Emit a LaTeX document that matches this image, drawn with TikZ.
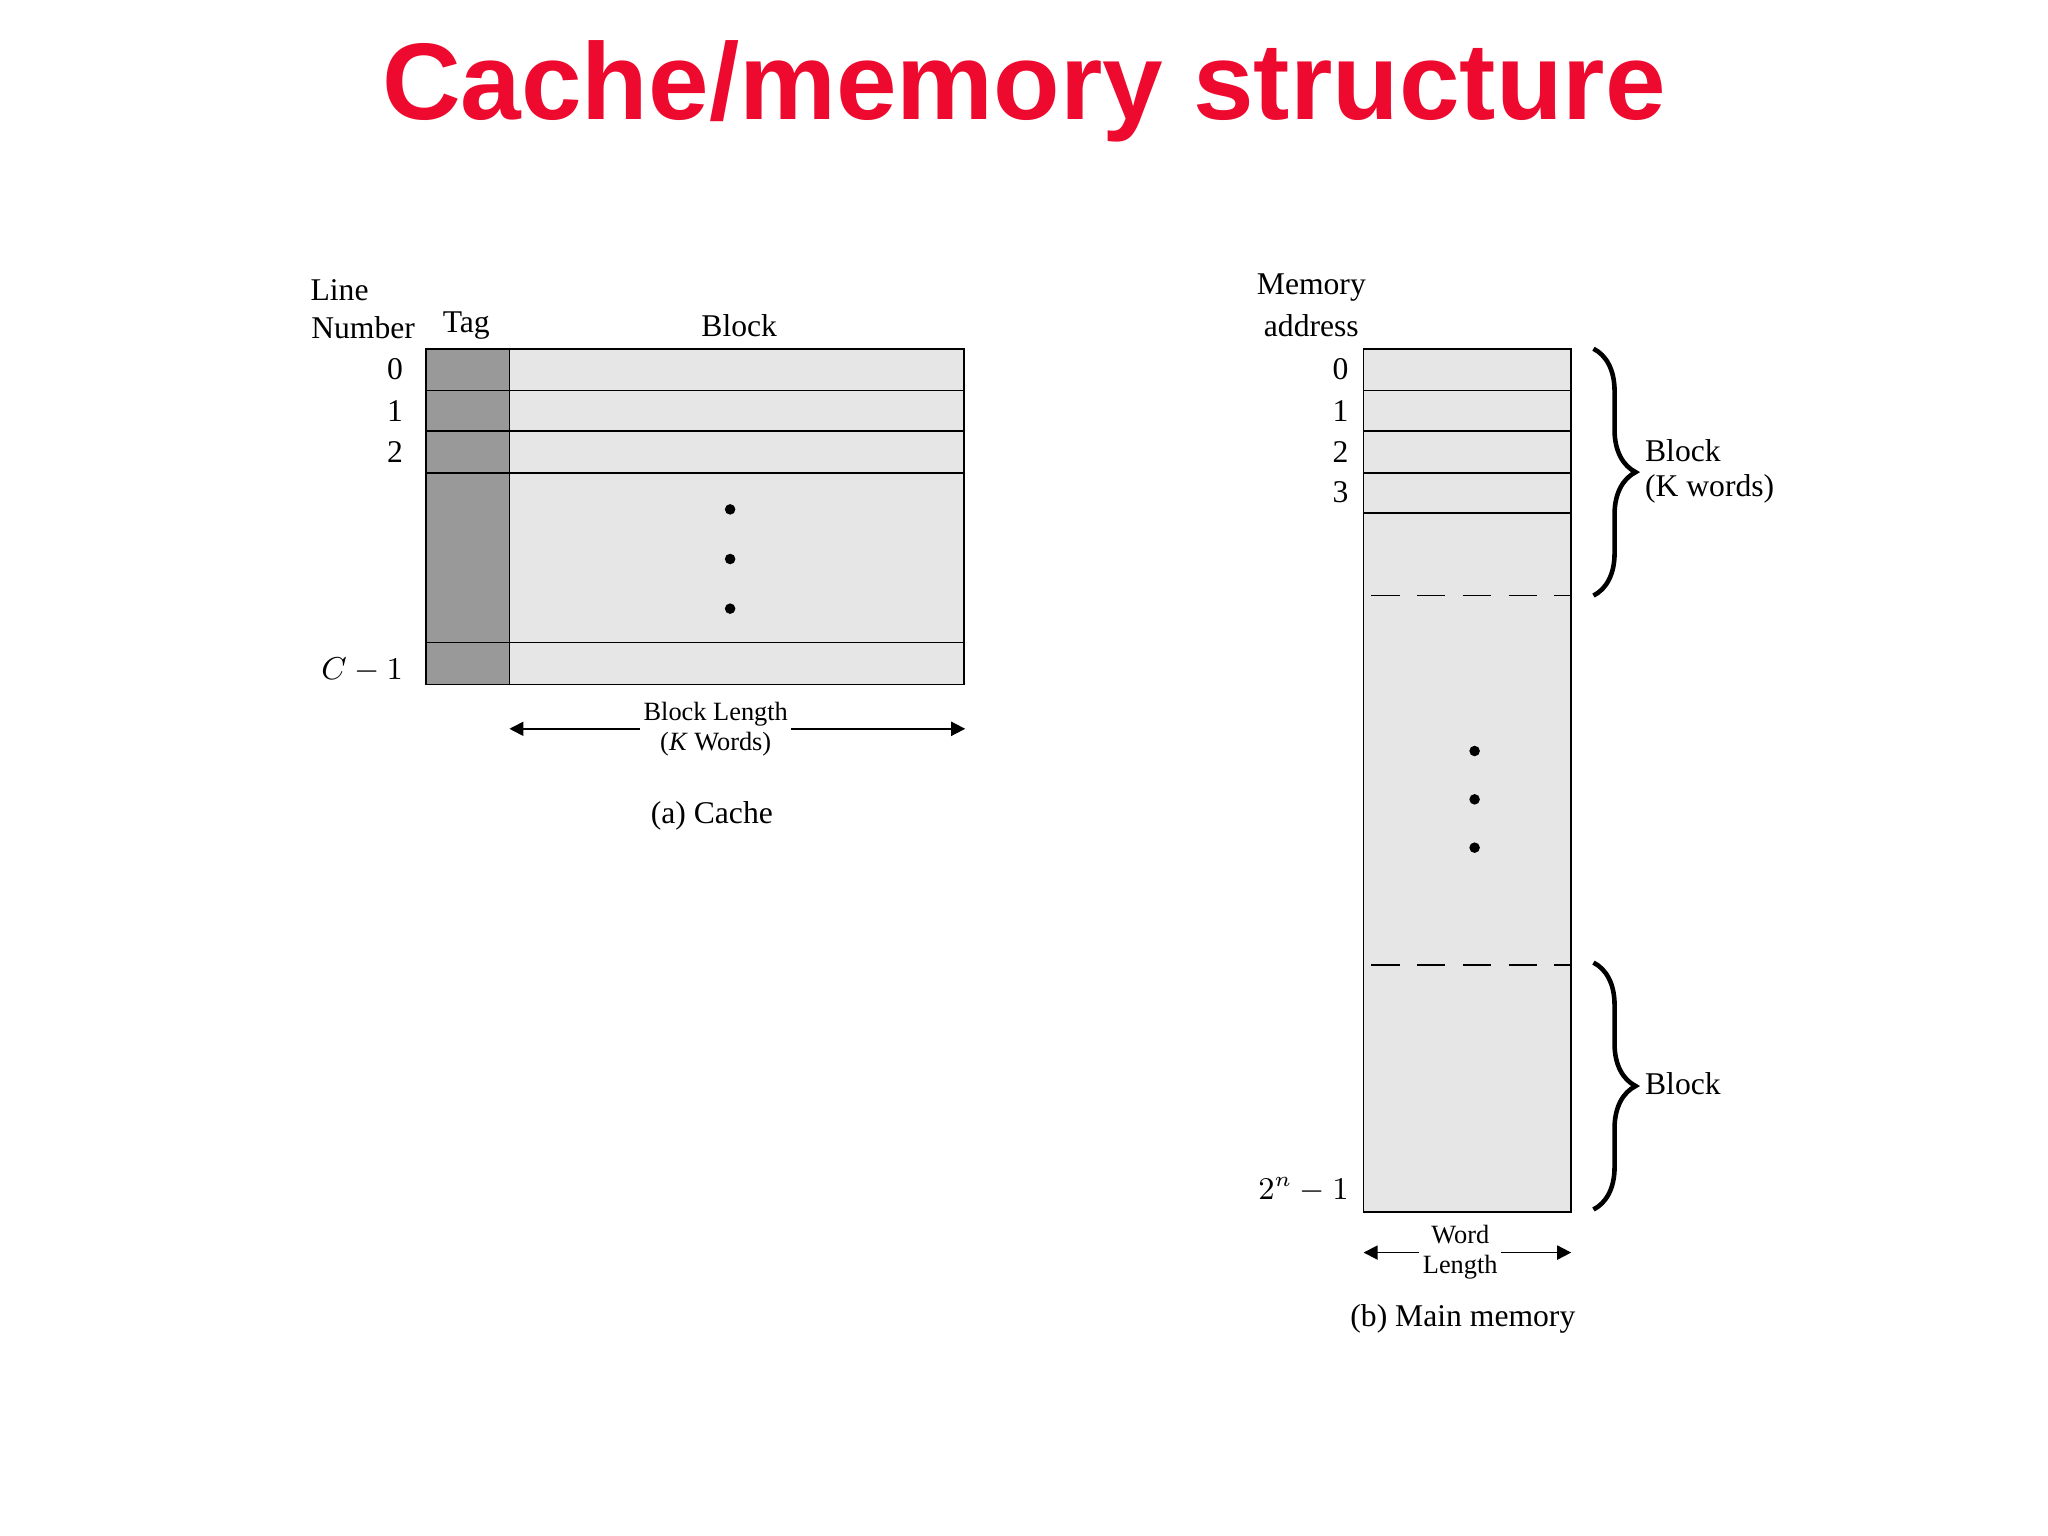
\documentclass[tikz,border=0pt]{standalone}
\usepackage{fontspec}
\setmainfont{Liberation Serif}
\newfontfamily\titlefont{Liberation Sans}
\usetikzlibrary{decorations.pathreplacing,arrows.meta}
\definecolor{titlered}{HTML}{EE0A2E}
\definecolor{taggray}{HTML}{999999}
\definecolor{cellgray}{HTML}{E6E6E6}
\begin{document}
\begin{tikzpicture}[x=0.01306cm,y=-0.01306cm,
  lbl/.style={font=\fontsize{9}{10}\selectfont,inner sep=0pt},
  small/.style={font=\fontsize{7.5}{8.5}\selectfont,inner sep=1pt,align=center,fill=white},
  cell/.style={draw=black,line width=0.5pt,fill=cellgray},
  tag/.style={draw=black,line width=0.5pt,fill=taggray},
  dot/.style={circle,fill=black,inner sep=0pt,minimum size=3pt},
  dim/.style={{Triangle[length=4pt,width=4pt]}-{Triangle[length=4pt,width=4pt]},line width=0.5pt},
  br/.style={decorate,decoration={brace,amplitude=12pt,raise=0pt},line width=1.3pt}]
\useasboundingbox (0,0) rectangle (1568,1176);
\node[font=\titlefont\bfseries\fontsize{31}{36}\selectfont,text=titlered] (title) at (784,70) {Cache/memory structure};
% cache
\foreach \a/\b in {267/299,299/330,330/362,362/492,492/524}{
  \draw[tag] (326,\a) rectangle (390,\b);
  \draw[cell] (390,\a) rectangle (738,\b);}
\node[dot] (c1) at (559,390) {};
\node[dot] (c2) at (559,428) {};
\node[dot] (c3) at (559,466) {};
\node[lbl] (line) at (260,222) {Line};
\node[lbl] (number) at (278,251) {Number};
\node[lbl] (tagl) at (357,249) {Tag};
\node[lbl] (blockl) at (566,249) {Block};
\node[lbl,anchor=east] (n0) at (309,283) {0};
\node[lbl,anchor=east] (n1) at (309,315) {1};
\node[lbl,anchor=east] (n2) at (309,346) {2};
\node[lbl,anchor=east] (nc) at (309,513) {$C-1$};
\coordinate (bl1) at (390,558);
\coordinate (bl2) at (739,558);
\draw[dim] (bl1) -- (bl2);
\node[small] (blen) at (548,558) {Block Length\\(\textit{K} Words)};
\node[lbl] (capa) at (545,625) {(a) Cache};
% memory
\foreach \a/\b in {267/299,299/330,330/362,362/393}{
  \draw[cell] (1044,\a) rectangle (1203,\b);}
\draw[cell] (1044,393) rectangle (1203,928);
\draw[dashed,line width=0.5pt,dash pattern=on 8pt off 5pt] (1050,456) -- (1203,456);
\draw[dashed,line width=0.5pt,dash pattern=on 8pt off 5pt] (1050,739) -- (1203,739);
\node[dot] (m1) at (1129,575) {};
\node[dot] (m2) at (1129,612) {};
\node[dot] (m3) at (1129,649) {};
\node[lbl] (mem) at (1004,220) {Memory};
\node[lbl] (addr) at (1004,249) {address};
\node[lbl,anchor=east] (a0) at (1033,283) {0};
\node[lbl,anchor=east] (a1) at (1033,315) {1};
\node[lbl,anchor=east] (a2) at (1033,346) {2};
\node[lbl,anchor=east] (a3) at (1033,377) {3};
\node[lbl,anchor=east] (an) at (1033,911) {$2^{n}-1$};
\coordinate (b1t) at (1220,267);
\coordinate (b1b) at (1220,456);
\coordinate (b2t) at (1220,737);
\coordinate (b2b) at (1220,926);
\draw[br] (b1t) -- (b1b);
\draw[br] (b2t) -- (b2b);
\node[lbl,anchor=west,align=left] (bk1) at (1259,361) {Block\\(K words)};
\node[lbl,anchor=west] (bk2) at (1259,830) {Block};
\coordinate (w1) at (1044,959);
\coordinate (w2) at (1203,959);
\draw[dim] (w1) -- (w2);
\node[small] (wlen) at (1118,959) {Word\\Length};
\node[lbl] (capb) at (1120,1010) {(b) Main memory};
\end{tikzpicture}
\end{document}
